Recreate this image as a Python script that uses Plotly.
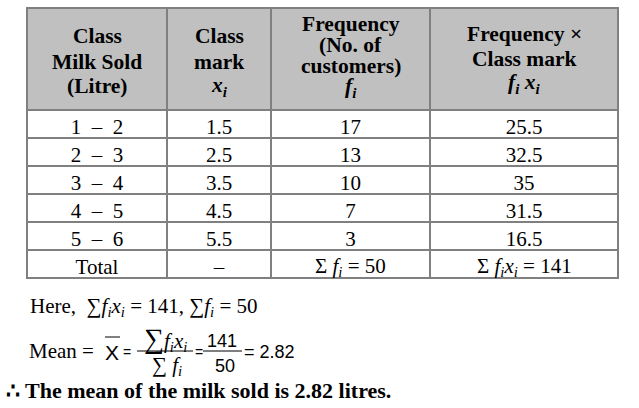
import plotly.graph_objects as go

W, H = 639, 408

# table data
classes = ["1 – 2", "2 – 3", "3 – 4", "4 – 5", "5 – 6"]
class_marks = [1.5, 2.5, 3.5, 4.5, 5.5]
frequencies = [17, 13, 10, 7, 3]
products = [25.5, 32.5, 35, 31.5, 16.5]

header_lines = [
    ["Class", "Milk Sold", "(Litre)"],
    ["Class", "mark", "<i>x<sub>i</sub></i>"],
    ["Frequency", "(No. of", "customers)", "<i>f<sub>i</sub></i>"],
    ["Frequency ×", "Class mark", "<i>f<sub>i</sub> x<sub>i</sub></i>"],
]
header_baselines = [[42, 68, 92], [42, 68, 92], [30, 51, 72, 93], [40, 65, 90]]

total_f = sum(frequencies)
total_fx = sum(products)

col_edges = [27, 167, 271, 430, 618]
col_widths = [b - a for a, b in zip(col_edges[:-1], col_edges[1:])]

SERIF = "Liberation Serif"
SANS = "Liberation Sans"
GRID = "#808080"


def px(x):
    return x / W


def py(y):
    return 1 - y / H


# the two sum cells of the Total row are written as annotations (subscripts
# would otherwise make plotly grow that row)
col1 = [c.replace(" – ", "  –  ") for c in classes] + ["Total"]
col2 = [f"{v:g}" for v in class_marks] + ["–"]
col3 = [str(v) for v in frequencies] + [""]
col4 = [f"{v:g}" for v in products] + [""]
total_texts = ["", "", f"Σ <i>f<sub>i</sub></i> = {total_f:g}",
               f"Σ <i>f<sub>i</sub>x<sub>i</sub></i> = {total_fx:g}"]

fig = go.Figure(go.Table(
    domain=dict(x=[px(col_edges[0]), px(col_edges[-1])], y=[0, py(8)]),
    columnwidth=col_widths,
    header=dict(
        values=["", "", "", ""],
        fill_color="#C0C0C0",
        line=dict(color=GRID, width=2),
        height=102,
    ),
    cells=dict(
        values=[col1, col2, col3, col4],
        fill_color="white",
        line=dict(color=GRID, width=2),
        align="center",
        height=28,
        font=dict(family=SERIF, size=21, color="black"),
    ),
))

serif21 = dict(family=SERIF, size=21, color="black")

ann = []
for j, lines in enumerate(header_lines):
    cx = (col_edges[j] + col_edges[j + 1]) / 2
    for text, base in zip(lines, header_baselines[j]):
        ann.append(dict(x=px(cx), y=py(base - 6), text=f"<b>{text}</b>",
                        font=dict(family=SERIF, size=21.5, color="black")))
    if total_texts[j]:
        ann.append(dict(x=px(cx), y=py(267), text=total_texts[j], font=serif21))

# worked solution below the table
sans18 = dict(family=SANS, size=18, color="black")
eq_font = dict(family=SANS, size=14, color="black")
ann += [
    dict(x=px(28), y=py(307), xanchor="left",
         text="Here,  ∑<i>f<sub>i</sub>x<sub>i</sub></i> = 141, ∑<i>f<sub>i</sub></i> = 50",
         font=serif21),
    dict(x=px(27), y=py(351), xanchor="left", text="Mean =", font=serif21),
    dict(x=px(112), y=py(352), text="X", font=dict(family=SANS, size=21, color="black")),
    dict(x=px(127), y=py(352), text="=", font=eq_font),
    dict(x=px(165), y=py(339),
         text="<span style='font-size:28px'>∑</span><i>f<sub>i</sub>x<sub>i</sub></i>",
         font=serif21),
    dict(x=px(167), y=py(366), text="∑ <i>f<sub>i</sub></i>", font=serif21),
    dict(x=px(199), y=py(352), text="=", font=eq_font),
    dict(x=px(222), y=py(341), text="141", font=sans18),
    dict(x=px(225), y=py(366), text="50", font=sans18),
    dict(x=px(242), y=py(352), xanchor="left", text="= 2.82", font=sans18),
    dict(x=px(4), y=py(390), xanchor="left",
         text="<b>∴ The mean of the milk sold is 2.82 litres.</b>",
         font=dict(family=SERIF, size=22, color="black")),
]
for a in ann:
    a.update(xref="paper", yref="paper", showarrow=False)
    a.setdefault("xanchor", "center")
    a.setdefault("yanchor", "middle")

line_style = dict(color="black", width=1)
shapes = [
    dict(type="line", x0=px(105), x1=px(120), y0=py(337), y1=py(337)),
    dict(type="line", x0=px(137), x1=px(193), y0=py(351), y1=py(351)),
    dict(type="line", x0=px(203), x1=px(242), y0=py(351), y1=py(351)),
]
for s in shapes:
    s.update(xref="paper", yref="paper", line=line_style)

fig.update_layout(
    width=W, height=H,
    margin=dict(l=0, r=0, t=0, b=0),
    paper_bgcolor="white", plot_bgcolor="white",
    annotations=ann, shapes=shapes,
)

fig.write_html("out.html", config={"displayModeBar": False},
               post_script="document.body.style.margin='0px';")
